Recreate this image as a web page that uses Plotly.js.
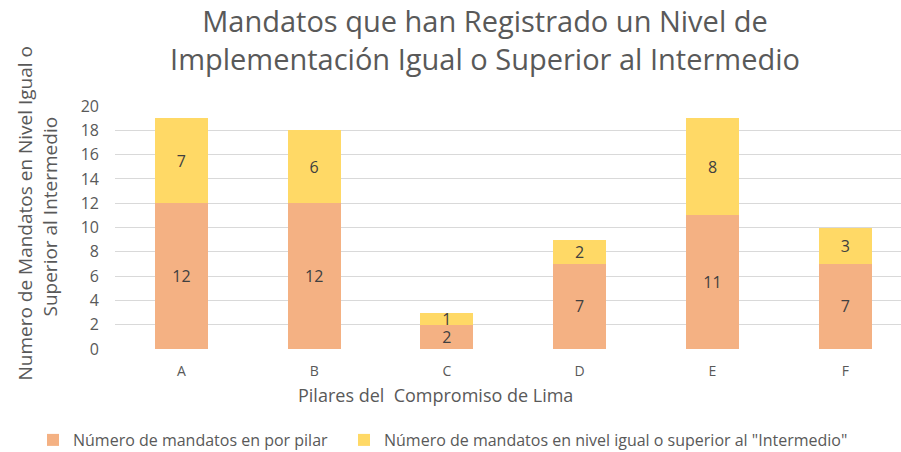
<!DOCTYPE html>
<html>
<head>
<meta charset="utf-8">
<script src="https://cdn.plot.ly/plotly-3.0.1.min.js"></script>
<style>html,body{margin:0;padding:0;background:#fff;}#chart{width:901px;height:452px;}</style>
</head>
<body>
<div id="chart"></div>
<script>
var categories = ["A", "B", "C", "D", "E", "F"];
var seriesPilar = [12, 12, 2, 7, 11, 7];
var seriesIntermedio = [7, 6, 1, 2, 8, 3];
var seriesNames = ["Número de mandatos en por pilar", "Número de mandatos en nivel igual o superior al \"Intermedio\""];
var yTicks = [0, 2, 4, 6, 8, 10, 12, 14, 16, 18, 20];

var FONT = "Open Sans, sans-serif";
var GRAY = "#595959";

var traces = [
  {
    type: "bar", x: categories, y: seriesPilar, name: seriesNames[0],
    marker: {color: "#F4B183"}, width: 0.4, legend: "legend",
    text: seriesPilar.map(String), textposition: "inside", insidetextanchor: "middle",
    textangle: 0, constraintext: "none",
    textfont: {family: FONT, size: 16, color: "#404040"}, hoverinfo: "x+y"
  },
  {
    type: "bar", x: categories, y: seriesIntermedio, name: seriesNames[1],
    marker: {color: "#FFD966"}, width: 0.4, legend: "legend2",
    text: seriesIntermedio.map(String), textposition: "inside", insidetextanchor: "middle",
    textangle: 0, constraintext: "none",
    textfont: {family: FONT, size: 16, color: "#404040"}, hoverinfo: "x+y"
  }
];

var legendCommon = {
  orientation: "h", xref: "container", yref: "container",
  xanchor: "left", y: 1 - 440 / 452, yanchor: "middle",
  font: {family: FONT, size: 16, color: GRAY}
};

var layout = {
  width: 901, height: 452,
  barmode: "stack",
  paper_bgcolor: "#fff", plot_bgcolor: "#fff",
  margin: {l: 115, r: 0, t: 106, b: 103},
  font: {family: FONT, color: GRAY},
  title: {
    text: "Mandatos que han Registrado un Nivel de<br>Implementación Igual o Superior al Intermedio",
    font: {family: FONT, size: 29, color: GRAY},
    x: 485 / 901, xanchor: "center", xref: "container",
    y: 1 - 32 / 452, yanchor: "middle", yref: "container"
  },
  xaxis: {
    type: "category", range: [-0.5, 5.42],
    showgrid: false, zeroline: false, showline: false, ticks: "",
    tickfont: {family: FONT, size: 14, color: GRAY},
    ticklabelstandoff: 12,
    fixedrange: true
  },
  yaxis: {
    range: [0, 20], tickvals: yTicks, ticktext: yTicks.map(String),
    showgrid: true, gridcolor: "#d9d9d9", gridwidth: 1,
    zeroline: false, showline: false, ticks: "",
    tickfont: {family: FONT, size: 16, color: GRAY},
    ticklabelstandoff: 15,
    fixedrange: true
  },
  showlegend: true,
  legend: Object.assign({}, legendCommon, {x: 33 / 901}),
  legend2: Object.assign({}, legendCommon, {x: 344 / 901}),
  annotations: [
    {
      text: "Numero de Mandatos en Nivel Igual o", textangle: -90,
      xref: "paper", yref: "paper", x: 0, xshift: -91, y: 0.5, yshift: 14,
      showarrow: false, font: {family: FONT, size: 19, color: GRAY},
      xanchor: "center", yanchor: "middle"
    },
    {
      text: "Superior al Intermedio", textangle: -90,
      xref: "paper", yref: "paper", x: 0, xshift: -66, y: 0.5, yshift: 11,
      showarrow: false, font: {family: FONT, size: 19, color: GRAY},
      xanchor: "center", yanchor: "middle"
    },
    {
      text: "Pilares del  Compromiso de Lima",
      xref: "paper", yref: "paper", x: (435 - 115) / 786, y: 0, yshift: -46,
      showarrow: false, font: {family: FONT, size: 18, color: GRAY},
      xanchor: "center", yanchor: "middle"
    }
  ]
};

Plotly.newPlot("chart", traces, layout, {displayModeBar: false, staticPlot: true});
</script>
</body>
</html>
